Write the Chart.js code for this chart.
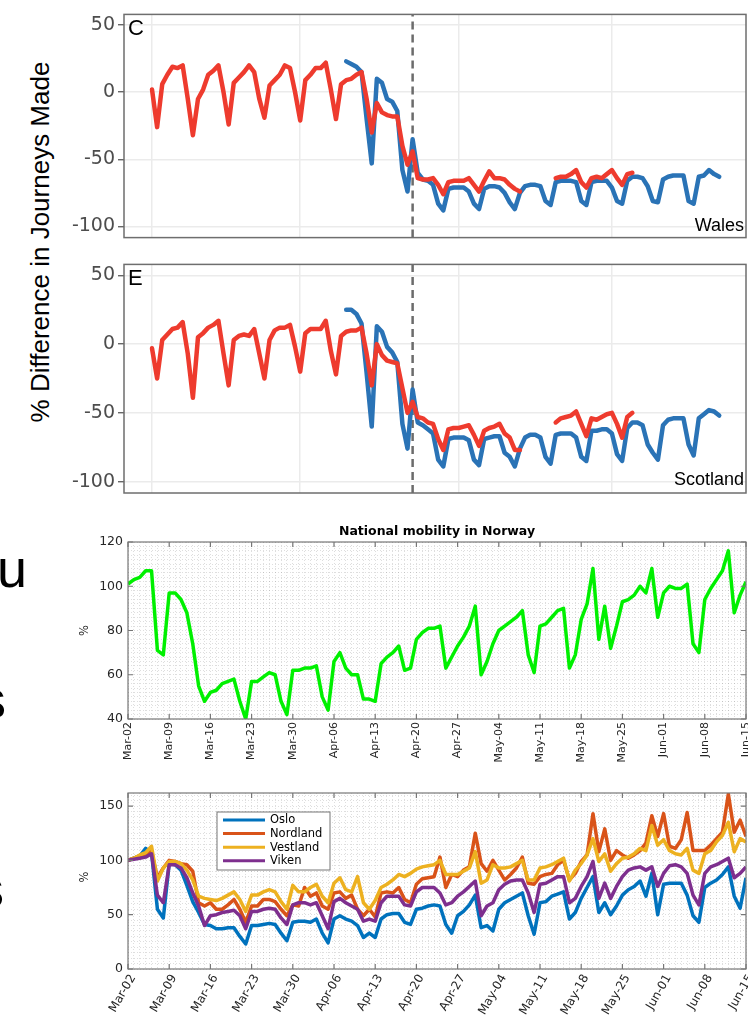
<!DOCTYPE html>
<html>
<head>
<meta charset="utf-8">
<script src="https://cdn.jsdelivr.net/npm/chart.js@4.4.1/dist/chart.umd.min.js"></script>
<style>
  body { margin: 0; width: 748px; height: 1017px; overflow: hidden; background: #fff; position: relative;
         font-family: "Liberation Sans", Arial, sans-serif; }
  canvas { position: absolute; left: 0; }
  .frag { position: absolute; font-size: 54px; line-height: 1; color: #000; }
  #ukLabel { position: absolute; left: 40px; top: 242px; transform: translate(-50%, -50%) rotate(-90deg);
             font-size: 26px; white-space: nowrap; color: #000; }
</style>
</head>
<body>
<div class="frag" style="left:-3px; top:541px;">u</div>
<div class="frag" style="left:-21px; top:672px;">s</div>
<div class="frag" style="left:-23px; top:861px;">s</div>
<div id="ukLabel">% Difference in Journeys Made</div>

<canvas id="wales" width="748" height="252" style="top:0px"></canvas>
<canvas id="scotland" width="748" height="262" style="top:250px"></canvas>
<canvas id="national" width="748" height="255" style="top:515px"></canvas>
<canvas id="regional" width="748" height="237" style="top:780px"></canvas>

<script>
// ---- UK panels: day 0 = 1 Feb, red = usual level, blue = 2020 ----
const blueStart = 38;
const lockdownDay = 51;
const monthDays = [0, 29, 60, 90];
const ukYTicks = [-100, -50, 0, 50];

const walesBaseline = [
  2, -26, 6, 13, 19, 18, 20,
  -5, -32, -5, 2, 13, 16, 20,
  0, -24, 7, 11, 15, 20, 15,
  -5, -19, 5, 9, 13, 20, 18,
  0, -21, 9, 13, 18, 18, 22,
  2, -20, 6, 9, 10, 13, 15,
  -5, -30, -8, -15, -17, -18, -18,
  -40, -54, -44, -64, -65, -65, -64,
  -69, -76, -67, -66, -66, -66, -64,
  -69, -74, -66, -59, -64, -64, -65,
  -69, -72, -74, null, null, null, null,
  null, null, -64, -63, -63, -61, -58,
  -67, -71, -64, -63, -64, -61, -58,
  -64, -69, -61, -60
];
const wales2020 = [
  23, 21, 19, 15,
  -20, -53, 10, 7, -5, -7, -14,
  -58, -74, -35, -60, -65, -66, -69,
  -83, -88, -72, -71, -71, -71, -74,
  -83, -87, -72, -70, -70, -71, -75,
  -82, -87, -75, -70, -69, -69, -70,
  -81, -84, -67, -66, -66, -66, -67,
  -81, -84, -67, -66, -66, -66, -71,
  -81, -83, -66, -63, -63, -64, -70,
  -81, -82, -65, -63, -62, -62, -62,
  -81, -83, -63, -62, -58, -61, -63
];
const scotlandBaseline = [
  -3, -25, 3, 7, 11, 12, 16,
  -7, -39, 5, 8, 12, 14, 17,
  -7, -30, 3, 6, 7, 6, 11,
  -7, -25, 3, 10, 12, 12, 14,
  -2, -20, 8, 11, 11, 11, 17,
  -5, -22, 6, 9, 10, 10, 12,
  -7, -30, 0, -8, -12, -13, -14,
  -32, -50, -42, -53, -54, -57, -58,
  -69, -77, -62, -61, -61, -60, -59,
  -66, -74, -63, -61, -60, -58, -65,
  -68, -77, -77, null, null, null, null,
  null, null, -57, -54, -53, -52, -49,
  -58, -67, -54, -55, -53, -51, -50,
  -58, -68, -53, -50
];
const scotland2020 = [
  25, 25, 22, 15,
  -21, -60, 13, 9, -2, -6, -13,
  -58, -76, -33, -57, -59, -62, -65,
  -84, -89, -69, -68, -68, -68, -70,
  -84, -88, -69, -68, -67, -67, -79,
  -82, -89, -76, -68, -66, -66, -68,
  -82, -87, -66, -65, -65, -65, -68,
  -82, -85, -63, -63, -62, -62, -65,
  -80, -85, -61, -57, -57, -59, -73,
  -79, -84, -59, -55, -54, -54, -54,
  -73, -81, -54, -51, -48, -49, -52
];

// ---- Norway: day 0 = Mar-02 ----
const weekLabels = ['Mar-02', 'Mar-09', 'Mar-16', 'Mar-23', 'Mar-30', 'Apr-06', 'Apr-13', 'Apr-20',
  'Apr-27', 'May-04', 'May-11', 'May-18', 'May-25', 'Jun-01', 'Jun-08', 'Jun-15'];
const nationalYTicks = [40, 60, 80, 100, 120];
const regionalYTicks = [0, 50, 100, 150];

const norwayNational = [
  101, 103, 104, 107, 107, 71, 69,
  97, 97, 94, 88, 74, 55, 48,
  52, 53, 56, 57, 58, 48, 40,
  57, 57, 59, 61, 60, 48, 42,
  62, 62, 63, 63, 64, 50, 44,
  66, 70, 63, 60, 60, 49, 49,
  48, 65, 68, 70, 73, 62, 63,
  76, 79, 81, 81, 82, 63, 68,
  73, 77, 82, 91, 60, 66, 74,
  80, 82, 84, 86, 89, 69, 61,
  82, 83, 86, 89, 90, 63, 69,
  85, 92, 108, 76, 91, 72, 82,
  93, 94, 96, 100, 97, 108, 86,
  97, 100, 99, 99, 101, 74, 70,
  94, 99, 103, 107, 116, 88, 96,
  102
];

const regionNames = ['Oslo', 'Nordland', 'Vestland', 'Viken'];
const oslo = [
  100, 102, 104, 111, 107, 55, 47,
  97, 96, 91, 77, 62, 52, 41,
  40, 37, 37, 38, 38, 30, 23,
  40, 40, 41, 42, 41, 33, 26,
  43, 44, 44, 43, 46, 33, 24,
  46, 49, 46, 44, 40, 29, 33,
  29, 46, 50, 51, 51, 43, 41,
  55, 56, 58, 59, 58, 41, 33,
  49, 53, 59, 68, 38, 40, 35,
  55, 61, 64, 67, 70, 49, 32,
  61, 62, 67, 69, 71, 46, 52,
  65, 75, 85, 52, 61, 50, 58,
  68, 73, 76, 81, 67, 88, 50,
  78, 79, 79, 79, 68, 49, 43,
  75, 79, 82, 87, 94, 67, 56,
  84
];
const nordland = [
  100, 102, 104, 106, 108, 84, 93,
  100, 99, 97, 96, 90, 61, 58,
  61, 55, 55, 59, 64, 55, 43,
  58, 58, 64, 64, 62, 55, 49,
  59, 58, 75, 67, 70, 58, 55,
  70, 71, 65, 68, 55, 49, 55,
  48, 70, 71, 70, 75, 64, 61,
  78, 83, 84, 85, 103, 75, 87,
  85, 91, 94, 125, 97, 90, 100,
  91, 82, 87, 93, 103, 79, 78,
  85, 87, 88, 96, 100, 82, 88,
  99, 105, 143, 108, 129, 100, 109,
  105, 102, 105, 109, 116, 141, 122,
  143, 113, 111, 119, 144, 109, 109,
  109, 114, 120, 126, 161, 126, 137,
  122
];
const vestland = [
  100, 102, 105, 107, 113, 81, 93,
  99, 99, 97, 91, 82, 67, 65,
  64, 63, 65, 68, 71, 64, 53,
  68, 68, 71, 73, 71, 62, 55,
  77, 71, 71, 75, 78, 67, 61,
  79, 84, 73, 71, 85, 61, 55,
  63, 75, 78, 82, 87, 85, 88,
  92, 94, 95, 96, 100, 87, 87,
  87, 90, 93, 108, 79, 82, 96,
  93, 93, 94, 97, 100, 82, 82,
  93, 94, 96, 99, 102, 81, 91,
  97, 105, 120, 99, 106, 90, 97,
  102, 103, 106, 111, 109, 132, 114,
  119, 109, 106, 105, 111, 91, 88,
  106, 109, 117, 123, 135, 108, 120,
  117
];
const viken = [
  100, 101, 102, 103, 106, 68, 61,
  96, 96, 93, 84, 70, 58, 40,
  49, 50, 52, 53, 54, 49, 37,
  53, 53, 55, 56, 55, 47, 41,
  59, 61, 61, 59, 61, 49, 37,
  62, 65, 61, 58, 55, 44, 46,
  44, 61, 67, 67, 67, 59, 58,
  71, 75, 75, 75, 70, 59, 61,
  67, 71, 76, 81, 49, 58, 61,
  73, 78, 81, 82, 82, 70, 52,
  78, 79, 82, 85, 85, 61, 65,
  76, 85, 99, 65, 79, 65, 76,
  85, 91, 93, 94, 91, 94, 76,
  88, 95, 96, 94, 88, 68, 59,
  88, 94, 96, 99, 102, 84, 88,
  94
];

const ukRed = '#EE3B2E';
const ukBlue = '#2A73B6';
const regionColors = ['#0072BD', '#D95319', '#EDB120', '#7E2F8E'];

const toPoints = (vals, start) => vals.map((v, i) => ({ x: start + i, y: v }));
const range = (a, b, step) => { const out = []; for (let v = a; v <= b; v += step) out.push({ value: v }); return out; };

// ggplot-like panel border and corner texts
const panelDeco = {
  id: 'panelDeco',
  afterDraw(chart, args, opts) {
    const { ctx, chartArea: a } = chart;
    ctx.save();
    ctx.strokeStyle = '#6e6e6e';
    ctx.lineWidth = 1.5;
    ctx.strokeRect(a.left, a.top, a.right - a.left, a.bottom - a.top);
    ctx.fillStyle = '#000';
    ctx.font = '22px "Liberation Sans", Arial, sans-serif';
    ctx.textBaseline = 'alphabetic';
    ctx.textAlign = 'left';
    ctx.fillText(opts.letter, a.left + 4, a.top + opts.letterDrop);
    ctx.font = '18px "Liberation Sans", Arial, sans-serif';
    ctx.textAlign = 'right';
    ctx.fillText(opts.name, a.right - 2, a.bottom - opts.nameLift);
    ctx.restore();
  }
};

function ukChart(id, baseline, current, letter, name, padTop, axisH, letterDrop, nameLift) {
  new Chart(document.getElementById(id), {
    type: 'line',
    data: {
      datasets: [
        { data: toPoints(baseline, 0), borderColor: ukRed, borderWidth: 4.5, pointRadius: 0, spanGaps: false,
          borderJoinStyle: 'round', borderCapStyle: 'round' },
        { data: toPoints(current, blueStart), borderColor: ukBlue, borderWidth: 4.5, pointRadius: 0,
          borderJoinStyle: 'round', borderCapStyle: 'round' },
        { data: [{ x: lockdownDay, y: -108.3 }, { x: lockdownDay, y: 58 }], borderColor: '#6b6b6b',
          borderWidth: 2.5, borderDash: [8, 5], pointRadius: 0 }
      ]
    },
    options: {
      responsive: false, animation: false, events: [],
      layout: { padding: { top: padTop, right: 2, left: 0, bottom: 0 } },
      plugins: { legend: { display: false }, tooltip: { enabled: false },
                 panelDeco: { letter, name, letterDrop, nameLift } },
      scales: {
        x: {
          type: 'linear', min: -5.48, max: 116.24,
          afterBuildTicks: s => { s.ticks = monthDays.map(v => ({ value: v })); },
          ticks: { display: false },
          grid: { color: '#EBEBEB', lineWidth: 1.5, drawTicks: false },
          border: { display: false },
          afterFit: s => { s.height = axisH; s.paddingLeft = 0; s.paddingRight = 0; }
        },
        y: {
          min: -108.3, max: 58,
          afterBuildTicks: s => { s.ticks = ukYTicks.map(v => ({ value: v })); },
          ticks: { color: '#4D4D4D', font: { family: 'DejaVu Sans', size: 19 }, padding: 3 },
          grid: { color: '#EBEBEB', lineWidth: 1.5, tickLength: 6, tickColor: '#4D4D4D', tickWidth: 1.2 },
          border: { display: false },
          afterFit: s => { s.width = 124; }
        }
      }
    },
    plugins: [panelDeco]
  });
}

ukChart('wales', walesBaseline, wales2020, 'C', 'Wales', 7, 6, 21, 7);
ukChart('scotland', scotlandBaseline, scotland2020, 'E', 'Scotland', 3, 19, 21, 8);

// MATLAB-like box, inward ticks, title, y label and legend
const matlabDeco = {
  id: 'matlabDeco',
  afterDraw(chart, args, opts) {
    const { ctx, chartArea: a, scales: { x, y } } = chart;
    ctx.save();
    ctx.strokeStyle = '#777';
    ctx.lineWidth = 1.2;
    ctx.strokeRect(a.left, a.top, a.right - a.left, a.bottom - a.top);
    ctx.beginPath();
    weekLabels.forEach((l, i) => {
      const px = x.getPixelForValue(i * 7);
      ctx.moveTo(px, a.bottom); ctx.lineTo(px, a.bottom - 5);
      ctx.moveTo(px, a.top); ctx.lineTo(px, a.top + 5);
    });
    opts.yTicks.forEach(v => {
      const py = y.getPixelForValue(v);
      ctx.moveTo(a.left, py); ctx.lineTo(a.left + 5, py);
      ctx.moveTo(a.right, py); ctx.lineTo(a.right - 5, py);
    });
    ctx.stroke();

    ctx.fillStyle = '#262626';
    ctx.save();
    ctx.translate(a.left - 43, (a.top + a.bottom) / 2 + opts.labelShift);
    ctx.rotate(-Math.PI / 2);
    ctx.font = '11.5px "DejaVu Sans", sans-serif';
    ctx.textAlign = 'center';
    ctx.textBaseline = 'middle';
    ctx.fillText('%', 0, 0);
    ctx.restore();

    if (opts.title) {
      ctx.fillStyle = '#000';
      ctx.font = 'bold 12.5px "DejaVu Sans", sans-serif';
      ctx.textAlign = 'center';
      ctx.textBaseline = 'middle';
      ctx.fillText(opts.title, (a.left + a.right) / 2, a.top - 10);
    }

    if (opts.legend) {
      const lx = a.left + 89, ly = a.top + 19, lw = 113, lh = 58;
      ctx.fillStyle = '#fff';
      ctx.fillRect(lx, ly, lw, lh);
      ctx.strokeStyle = '#777';
      ctx.lineWidth = 1;
      ctx.strokeRect(lx, ly, lw, lh);
      ctx.font = '11.5px "DejaVu Sans", sans-serif';
      ctx.textAlign = 'left';
      ctx.textBaseline = 'middle';
      chart.data.datasets.forEach((ds, i) => {
        const ry = ly + 8 + i * 13.6;
        ctx.strokeStyle = ds.borderColor;
        ctx.lineWidth = 3;
        ctx.beginPath();
        ctx.moveTo(lx + 6, ry); ctx.lineTo(lx + 48, ry);
        ctx.stroke();
        ctx.fillStyle = '#000';
        ctx.fillText(ds.label, lx + 53, ry + 0.5);
      });
    }
    ctx.restore();
  }
};

function norwayScales(yMin, yMax, yStep, yTicks, rotation, axisH, xFont, xOffset) {
  return {
    x: {
      type: 'linear', min: 0, max: 105,
      afterBuildTicks: s => { s.ticks = range(0, 105, 1); },
      ticks: {
        autoSkip: false, minRotation: rotation, maxRotation: rotation, padding: 3, labelOffset: xOffset,
        color: '#262626', font: { family: 'DejaVu Sans', size: xFont },
        callback: v => (v % 7 === 0 ? weekLabels[v / 7] : '')
      },
      grid: { color: 'rgba(0,0,0,0.13)', lineWidth: 1, drawTicks: false },
      border: { display: false, dash: [1, 2] },
      afterFit: s => { s.height = axisH; s.paddingLeft = 0; s.paddingRight = 0; }
    },
    y: {
      min: yMin, max: yMax,
      afterBuildTicks: s => { s.ticks = range(yMin, yMax, yStep); },
      ticks: {
        autoSkip: false, padding: 5, color: '#262626', font: { family: 'DejaVu Sans', size: 12.5 },
        callback: v => (yTicks.includes(v) ? String(v) : '')
      },
      grid: { color: 'rgba(0,0,0,0.13)', lineWidth: 1, drawTicks: false },
      border: { display: false, dash: [1, 2] },
      afterFit: s => { s.width = 128; }
    }
  };
}

new Chart(document.getElementById('national'), {
  type: 'line',
  data: {
    datasets: [{ label: 'Norway', data: toPoints(norwayNational, 0), borderColor: '#00F000', borderWidth: 3.5,
                 pointRadius: 0, borderJoinStyle: 'round' }]
  },
  options: {
    responsive: false, animation: false, events: [],
    layout: { padding: { top: 27, right: 2, left: 0, bottom: 0 } },
    plugins: { legend: { display: false }, tooltip: { enabled: false },
               matlabDeco: { yTicks: nationalYTicks, title: 'National mobility in Norway', labelShift: 0 } },
    scales: norwayScales(40, 120, 2, nationalYTicks, 90, 51, 11, 0)
  },
  plugins: [matlabDeco]
});

const regionSeries = [oslo, nordland, vestland, viken];
new Chart(document.getElementById('regional'), {
  type: 'line',
  data: {
    datasets: regionSeries.map((vals, i) => ({
      label: regionNames[i], data: toPoints(vals, 0), borderColor: regionColors[i], borderWidth: 3.5,
      pointRadius: 0, borderJoinStyle: 'round', order: regionSeries.length - 1 - i
    }))
  },
  options: {
    responsive: false, animation: false, events: [],
    layout: { padding: { top: 13, right: 2, left: 0, bottom: 0 } },
    plugins: { legend: { display: false }, tooltip: { enabled: false },
               matlabDeco: { yTicks: regionalYTicks, legend: true, labelShift: -4 } },
    scales: norwayScales(0, 162, 5, regionalYTicks, 60, 48, 12, 5)
  },
  plugins: [matlabDeco]
});
</script>
</body>
</html>
